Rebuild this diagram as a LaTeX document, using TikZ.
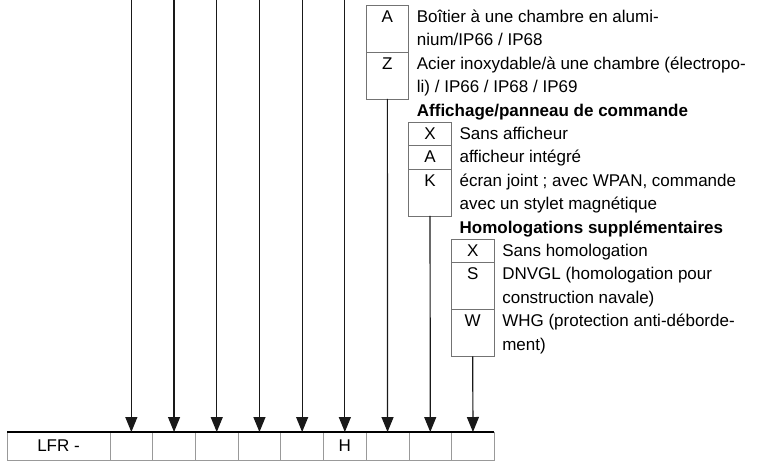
\documentclass[tikz,border=0pt]{standalone}
\usepackage{fontspec}
\setmainfont{Liberation Sans}
\usetikzlibrary{positioning}
\usetikzlibrary{arrows.meta}

\begin{document}
\begin{tikzpicture}[x=1pt, y=-1pt, font=\fontsize{17}{23.4}\selectfont,
  cell/.style = {draw=black!55, line width=0.8pt, outer sep=0pt, inner sep=0pt, minimum width=42.7pt, text height=17.2pt},
  one/.style = {cell, text depth=6.2pt},
  two/.style = {cell, text depth=29.6pt},
  desc/.style = {align=left, inner sep=0pt},
  desctwo/.style = {desc, yshift=-23.4pt},
  heading/.style = {inner sep=0pt, font=\fontsize{17}{23.4}\selectfont\bfseries},
  slot/.style = {draw=black!40, line width=0.8pt, outer sep=0pt, inner sep=0pt, minimum width=42.7pt, minimum height=28pt},
  arrow/.style = {draw=black!90, line width=1.2pt, -{Triangle[width=12pt,length=15pt]}}]
  \useasboundingbox (0,0) rectangle (760,464);
  % type code row
  \node[slot, minimum width=103pt, anchor=north west](c0) at (7,432) {LFR -};
  \foreach \t [count=\i, remember=\i as \prev (initially 0)] in {{},{},{},{},{},H,{},{},{}}
    \node[slot](c\i)[right=0pt of c\prev]{\t};
  \draw[line width=1.3pt] (c0.north west) -- (c9.north east);
  \coordinate (top) at (0,0);
  \foreach \i in {1,...,6}
    \draw[arrow] (top -| c\i.north) -- (c\i.north);
  % housing
  \node[two, anchor=north west](a1) at (366,5.3) {A};
  \node[two](z1)[below=0pt of a1]{Z};
  \node[desctwo](a1t)[base right=8pt of a1]{Boîtier à une chambre en alumi-\\nium/IP66 / IP68};
  \node[desctwo](z1t)[base right=8pt of z1]{Acier inoxydable/à une chambre (électropo-\\li) / IP66 / IP68 / IP69};
  \node[heading, anchor=base west](h1) at ([yshift=-17.2pt]z1.south -| z1t.west) {Affichage/panneau de commande};
  \draw[arrow] (z1.south) -- (c7.north);
  % display
  \node[one](x2)[below right=23.4pt and 0pt of z1.south east]{X};
  \node[one](a2)[below=0pt of x2]{A};
  \node[two](k2)[below=0pt of a2]{K};
  \node[desc](x2t)[base right=8pt of x2]{Sans afficheur};
  \node[desc](a2t)[base right=8pt of a2]{afficheur intégré};
  \node[desctwo](k2t)[base right=8pt of k2]{écran joint ; avec WPAN, commande\\avec un stylet magnétique};
  \node[heading, anchor=base west](h2) at ([yshift=-17.2pt]k2.south -| k2t.west) {Homologations supplémentaires};
  \draw[arrow] (k2.south) -- (c8.north);
  % approvals
  \node[one](x3)[below right=23.4pt and 0pt of k2.south east]{X};
  \node[two](s3)[below=0pt of x3]{S};
  \node[two](w3)[below=0pt of s3]{W};
  \node[desc](x3t)[base right=8pt of x3]{Sans homologation};
  \node[desctwo](s3t)[base right=8pt of s3]{DNVGL (homologation pour\\construction navale)};
  \node[desctwo](w3t)[base right=8pt of w3]{WHG (protection anti-déborde-\\ment)};
  \draw[arrow] (w3.south) -- (c9.north);
\end{tikzpicture}
\end{document}
